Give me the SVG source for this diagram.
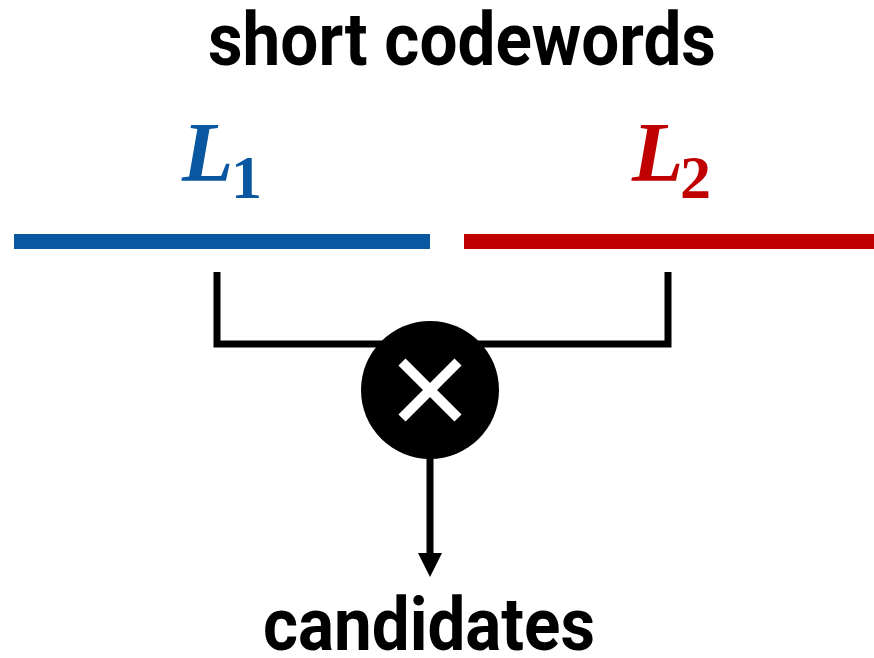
<svg xmlns="http://www.w3.org/2000/svg" width="874" height="658" viewBox="0 0 874 658">
<style>
.t{font-family:Roboto,"Liberation Sans",sans-serif;font-weight:bold;fill:#000}
.m{font-family:"Liberation Serif","DejaVu Serif",serif;font-weight:bold}
.c{fill:none;stroke:#000;stroke-width:7}
</style>
<defs>
<marker id="ah" markerWidth="24" markerHeight="24" refX="0" refY="12" orient="auto" markerUnits="userSpaceOnUse">
<path d="M0,0 L24,12 L0,24 z" fill="#000"/>
</marker>
</defs>
<g id="title"><text class="t" x="462" y="65" font-size="75" text-anchor="middle" textLength="508" lengthAdjust="spacingAndGlyphs">short codewords</text></g>
<g id="L1">
<rect x="14" y="234" width="416" height="15" fill="#0957A0"/>
<text class="m" x="182" y="181" font-size="84" fill="#0957A0" font-style="italic">L</text>
<text class="m" x="231" y="198" font-size="62" fill="#0957A0">1</text>
</g>
<g id="L2">
<rect x="464" y="234" width="410" height="15" fill="#C00000"/>
<text class="m" x="632" y="181" font-size="84" fill="#C00000" font-style="italic">L</text>
<text class="m" x="680" y="198" font-size="62" fill="#C00000">2</text>
</g>
<g id="connectors">
<path class="c" d="M217,272 V344 H668 V272"/>
<path class="c" d="M430,455 V553" marker-end="url(#ah)"/>
</g>
<g id="mult">
<circle cx="430" cy="390" r="69" fill="#000"/>
<path d="M402,362 L458,418 M458,362 L402,418" stroke="#fff" stroke-width="10"/>
</g>
<g id="candidates"><text class="t" x="429" y="650" font-size="75" text-anchor="middle" textLength="332" lengthAdjust="spacingAndGlyphs">candidates</text></g>
</svg>
